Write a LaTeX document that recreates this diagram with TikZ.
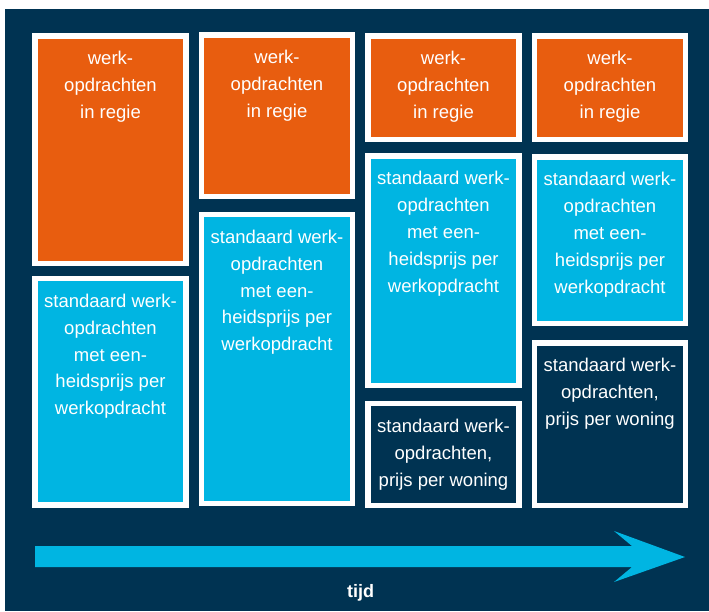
\documentclass[tikz,border=0pt]{standalone}
\usepackage{fontspec}
\setmainfont{Liberation Sans}
\definecolor{navy}{RGB}{0,51,82}
\definecolor{orng}{RGB}{232,93,15}
\definecolor{cyanb}{RGB}{0,181,226}
\begin{document}
\begin{tikzpicture}[x=1pt,y=-1pt,
  box/.style={draw=white, line width=5.5pt, minimum width=151pt, inner sep=0pt, outer sep=0pt},
  obox/.style={box, fill=orng},
  cbox/.style={box, fill=cyanb},
  nbox/.style={box, fill=navy},
  lbl/.style={text=white, font=\fontsize{18.5}{26.8}\selectfont, align=center, anchor=north, inner sep=0pt, outer sep=0pt}]
\useasboundingbox (0,0) rectangle (709,611);
\fill[white] (0,0) rectangle (709,611);
\fill[navy] (5,9) rectangle (709,611);
% column 1
\node[obox, minimum height=227.5pt] (o1) at (110.5,149.75) {};
\node[cbox, minimum height=226.5pt] (c1) at (110.5,391.75) {};
% column 2
\node[obox, minimum height=161.5pt] (o2) at (277,115.75) {};
\node[cbox, minimum height=289pt] (c2) at (277,359) {};
% column 3
\node[obox, minimum height=103.5pt] (o3) at (443.5,87.75) {};
\node[cbox, minimum height=229.5pt] (c3) at (443.5,270.75) {};
\node[nbox, minimum height=102pt] (n3) at (443.5,454.5) {};
% column 4
\node[obox, minimum height=103.5pt] (o4) at (610,87.75) {};
\node[cbox, minimum height=166.5pt] (c4) at (610,240.25) {};
\node[nbox, minimum height=162.5pt] (n4) at (610,424.25) {};
% labels
\node[lbl] (to1) at ([yshift=-15.5pt]o1.north) {werk-\\opdrachten\\in regie};
\node[lbl] (to2) at ([yshift=-15.5pt]o2.north) {werk-\\opdrachten\\in regie};
\node[lbl] (to3) at ([yshift=-15.5pt]o3.north) {werk-\\opdrachten\\in regie};
\node[lbl] (to4) at ([yshift=-15.5pt]o4.north) {werk-\\opdrachten\\in regie};
\node[lbl] (tc1) at ([yshift=-15.5pt]c1.north) {standaard werk-\\opdrachten\\met een-\\heidsprijs per\\werkopdracht};
\node[lbl] (tc2) at ([yshift=-15.5pt]c2.north) {standaard werk-\\opdrachten\\met een-\\heidsprijs per\\werkopdracht};
\node[lbl] (tc3) at ([yshift=-15.5pt]c3.north) {standaard werk-\\opdrachten\\met een-\\heidsprijs per\\werkopdracht};
\node[lbl] (tc4) at ([yshift=-15.5pt]c4.north) {standaard werk-\\opdrachten\\met een-\\heidsprijs per\\werkopdracht};
\node[lbl] (tn3) at ([yshift=-15.5pt]n3.north) {standaard werk-\\opdrachten,\\prijs per woning};
\node[lbl] (tn4) at ([yshift=-15.5pt]n4.north) {standaard werk-\\opdrachten,\\prijs per woning};
% time arrow
\fill[cyanb] (35,546) -- (632,546) -- (614,531) -- (685,557) -- (614,582) -- (632,567) -- (35,567) -- cycle;
\node[text=white, font=\fontsize{18}{22}\selectfont\bfseries, anchor=base, inner sep=0pt] (tijd) at (360.5,597) {tijd};
\end{tikzpicture}
\end{document}
